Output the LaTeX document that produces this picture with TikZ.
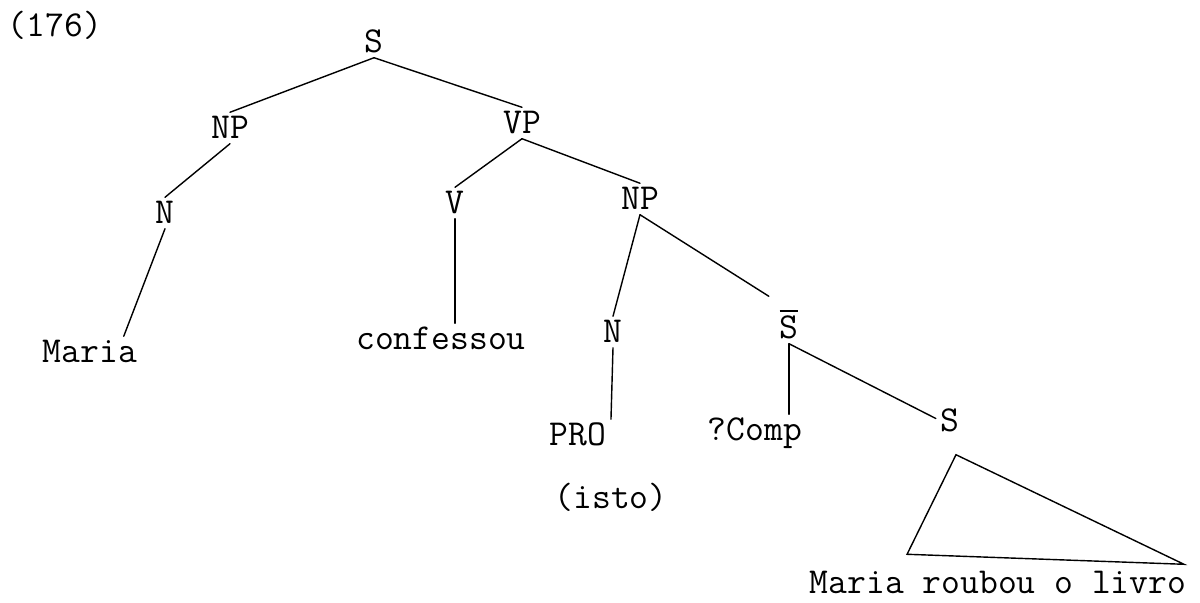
\documentclass[tikz,border=0pt]{standalone}
\usepackage{fontspec}
\usepackage{amsmath}
\usetikzlibrary{calc}

\begin{document}
\begin{tikzpicture}[x=0.02cm, y=-0.02cm,
  cat/.style={font=\ttfamily\fontsize{20.8}{24}\selectfont, inner sep=2.5pt, text height=12.5pt, text depth=0pt},
  br/.style={line width=0.8pt, line cap=round}
]
\useasboundingbox (0,0) rectangle (1200,602);
\node[cat] (ex) at (55,26) {(176)};
\node[cat] (s) at (374,42) {S};
\node[cat] (np) at (230,128) {NP};
\node[cat] (vp) at (522,123) {VP};
\node[cat] (n) at (165,213) {N};
\node[cat] (v) at (455,203) {V};
\node[cat] (npb) at (640,199) {NP};
\node[cat] (maria) at (90,352) {Maria};
\node[cat] (conf) at (441,339) {confessou};
\node[cat] (nb) at (613,332) {N};
\node[cat] (sbar) at (789,328) {$\overline{\mbox{S}}$};
\node[cat] (pro) at (578,435) {PRO};
\node[cat] (comp) at (755,430) {?Comp};
\node[cat] (sb) at (950,421) {S};
\node[cat] (isto) at (611,498) {(isto)};
\node[cat] (clause) at (998,583) {Maria roubou o livro};
\coordinate (apex) at ($(sb.south)+(6,18)$);
\coordinate (tl) at ($(clause.north west)+(102,-13)$);
\coordinate (tr) at ($(clause.north east)+(-7,-3)$);
\draw[br] (s.south) -- (np.north);
\draw[br] (s.south) -- (vp.north);
\draw[br] (np.south) -- (n.north);
\draw[br] (n.south) -- (maria.25);
\draw[br] (vp.south) -- (v.north);
\draw[br] (vp.south) -- (npb.north);
\draw[br] (v.south) -- (v.south |- conf.north);
\draw[br] (npb.south) -- (nb.north);
\draw[br] (npb.south) -- ($(sbar.north west)+(-6,-16)$);
\draw[br] (nb.south) -- (pro.north east);
\draw[br] (sbar.south) -- (sbar.south |- comp.north);
\draw[br] (sbar.south) -- (sb.170);
\draw[br] (apex) -- (tl) -- (tr) -- cycle;
\end{tikzpicture}
\end{document}
